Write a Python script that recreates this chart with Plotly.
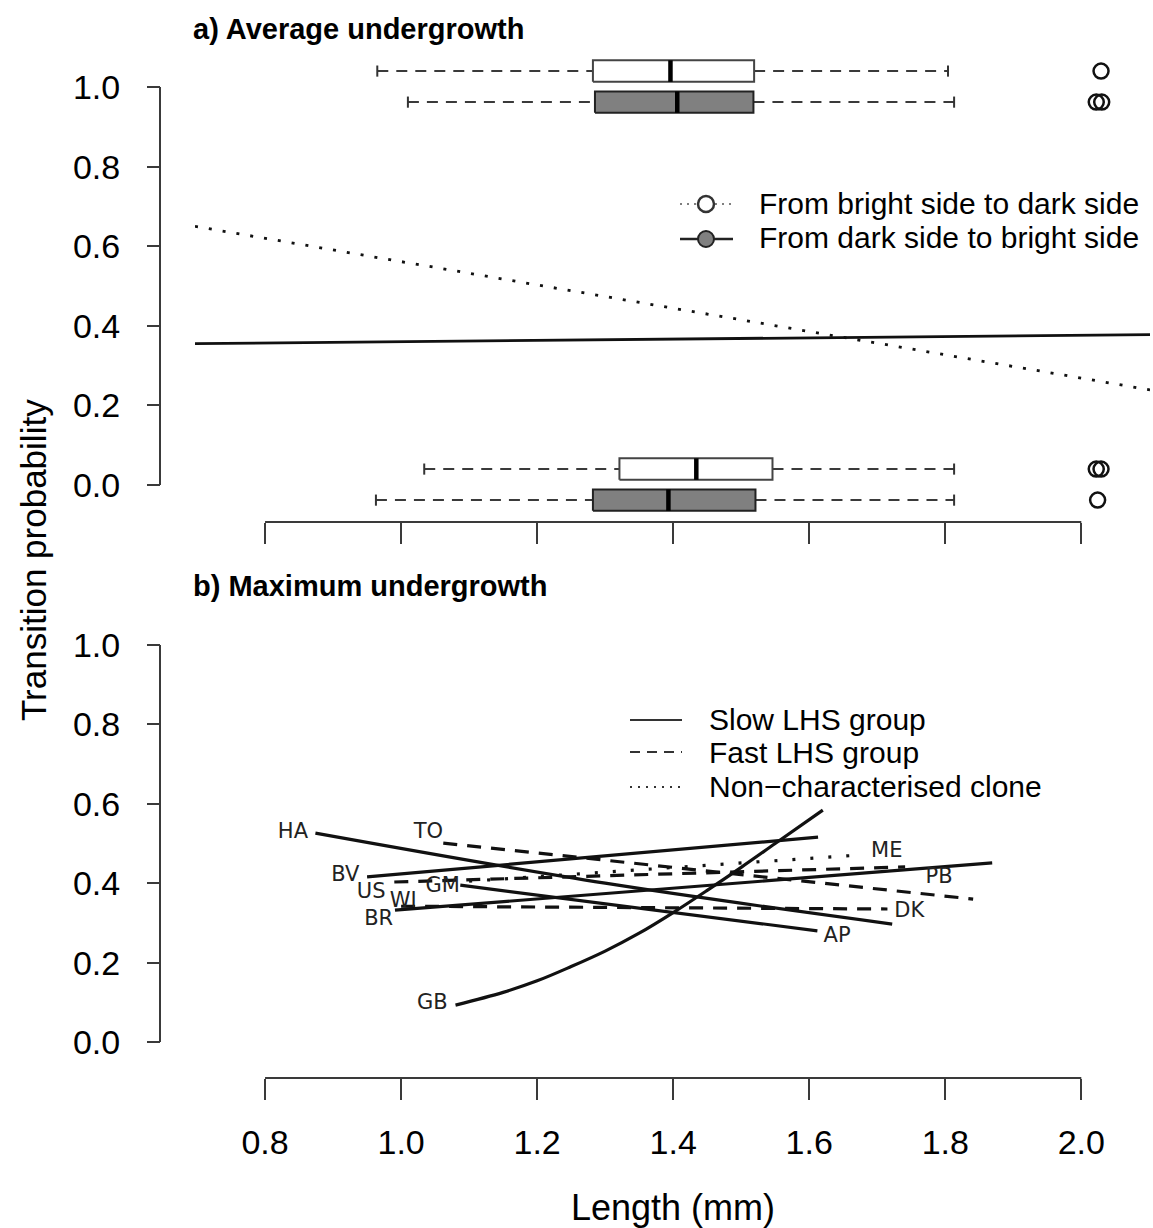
import plotly.graph_objects as go

W, H = 1153, 1228

# ---------------- data: panel a (average undergrowth) ----------------
# boxplots of length for transitions (rows: top pair = transition 1, bottom pair = 0)
box_pos = [1.04, 0.962, 0.04, -0.038]
box_kind = ["bright", "dark", "bright", "dark"]
box_wlo = [0.965, 1.010, 1.034, 0.963]
box_q1 = [1.282, 1.285, 1.321, 1.282]
box_med = [1.396, 1.406, 1.434, 1.393]
box_q3 = [1.519, 1.518, 1.546, 1.521]
box_whi = [1.804, 1.813, 1.813, 1.813]
box_out = [[2.029], [2.022, 2.030], [2.022, 2.029], [2.024]]

# fitted transition probability curves
avg_x = [0.697, 1.4, 2.101]
avg_bright_to_dark = [0.65, 0.445, 0.239]
avg_dark_to_bright = [0.355, 0.366, 0.378]

# ---------------- data: panel b (maximum undergrowth) ----------------
clone_names = ["HA", "BV", "BR", "AP", "TO", "US", "WI", "ME"]
clone_group = ["slow", "slow", "slow", "slow", "fast", "fast", "fast", "none"]
clone_x = [[0.874, 1.3, 1.722], [0.95, 1.613], [0.991, 1.869], [1.087, 1.612],
           [1.062, 1.841], [0.99, 1.741], [1.0, 1.715], [1.10, 1.675]]
clone_y = [[0.526, 0.40, 0.297], [0.416, 0.516], [0.332, 0.451], [0.395, 0.280],
           [0.501, 0.360], [0.403, 0.441], [0.342, 0.335], [0.405, 0.471]]
gb_x = [1.08, 1.15, 1.2, 1.25, 1.3, 1.35, 1.4, 1.45, 1.5, 1.55, 1.62]
gb_y = [0.093, 0.125, 0.154, 0.19, 0.229, 0.274, 0.326, 0.382, 0.44, 0.50, 0.584]

label_text = ["HA", "TO", "BV", "US", "WI", "GM", "BR", "GB", "ME", "PB", "DK", "AP"]
label_x = [0.841, 1.040, 0.918, 0.956, 1.003, 1.061, 0.967, 1.046, 1.714, 1.791, 1.747, 1.641]
label_y = [0.527, 0.527, 0.420, 0.375, 0.353, 0.390, 0.307, 0.096, 0.478, 0.413, 0.327, 0.265]

ticks_x = [0.8, 1.0, 1.2, 1.4, 1.6, 1.8, 2.0]
ticks_y = [0.0, 0.2, 0.4, 0.6, 0.8, 1.0]

# ---------------- styling helpers ----------------
FONT = "Liberation Sans"
AX = "#3a3a3a"
px = lambda v: v / W
py = lambda v: 1 - v / H
GROUP_DASH = {"slow": "solid", "fast": "14px,10px", "none": "3px,15px"}

fig = go.Figure()

# ---- panel a boxplots ----
bh, cap = 0.027, 0.014
for i in range(len(box_pos)):
    p = box_pos[i]
    fill = "white" if box_kind[i] == "bright" else "#808080"
    edge = "#444444" if box_kind[i] == "bright" else "#222222"
    for xa, xb in [(box_wlo[i], box_q1[i]), (box_q3[i], box_whi[i])]:
        fig.add_trace(go.Scatter(x=[xa, xb], y=[p, p], mode="lines", xaxis="x", yaxis="y",
                                 line=dict(color="#3a3a3a", width=2, dash="11px,8px"),
                                 showlegend=False, hoverinfo="skip"))
    for xc in [box_wlo[i], box_whi[i]]:
        fig.add_trace(go.Scatter(x=[xc, xc], y=[p - cap, p + cap], mode="lines", xaxis="x", yaxis="y",
                                 line=dict(color="#333", width=2), showlegend=False, hoverinfo="skip"))
    fig.add_trace(go.Scatter(x=[box_q1[i], box_q3[i], box_q3[i], box_q1[i], box_q1[i]],
                             y=[p - bh, p - bh, p + bh, p + bh, p - bh], mode="lines",
                             fill="toself", fillcolor=fill, xaxis="x", yaxis="y",
                             line=dict(color=edge, width=2), showlegend=False, hoverinfo="skip"))
    fig.add_trace(go.Scatter(x=[box_med[i], box_med[i]], y=[p - bh, p + bh], mode="lines",
                             xaxis="x", yaxis="y", line=dict(color="black", width=4.5),
                             showlegend=False, hoverinfo="skip"))
    fig.add_trace(go.Scatter(x=box_out[i], y=[p] * len(box_out[i]), mode="markers", xaxis="x", yaxis="y",
                             marker=dict(symbol="circle-open", size=15, color="#111", line=dict(width=2.5)),
                             showlegend=False, hoverinfo="skip"))

# ---- panel a curves ----
fig.add_trace(go.Scatter(x=avg_x, y=avg_bright_to_dark, mode="lines", xaxis="x", yaxis="y",
                         line=dict(color="#111", width=2.8, dash="3px,11px"), showlegend=False))
fig.add_trace(go.Scatter(x=avg_x, y=avg_dark_to_bright, mode="lines", xaxis="x", yaxis="y",
                         line=dict(color="#111", width=2.8), showlegend=False))

# ---- panel b curves ----
for i in range(len(clone_names)):
    fig.add_trace(go.Scatter(x=clone_x[i], y=clone_y[i], mode="lines", xaxis="x2", yaxis="y2",
                             line=dict(color="#111", width=3.2, dash=GROUP_DASH[clone_group[i]],
                                       shape="spline"),
                             name=clone_names[i], showlegend=False))
fig.add_trace(go.Scatter(x=gb_x, y=gb_y, mode="lines", xaxis="x2", yaxis="y2",
                         line=dict(color="#111", width=3.2, shape="spline"), name="GB", showlegend=False))
fig.add_trace(go.Scatter(x=label_x, y=label_y, mode="text", text=label_text, xaxis="x2", yaxis="y2",
                         textfont=dict(family="DejaVu Sans", size=21, color="#222"),
                         showlegend=False, hoverinfo="skip"))

# ---- axes ----
xa_common = dict(range=[0.697, 2.101], domain=[px(195), px(1150)], tickvals=ticks_x,
                 ticks="outside", ticklen=21, tickwidth=2, tickcolor=AX, showline=False,
                 showgrid=False, zeroline=False)
ya_common = dict(tickvals=ticks_y, tickformat=".1f", ticks="outside", ticklen=13, tickwidth=2,
                 tickcolor=AX, showline=False, showgrid=False, zeroline=False, anchor="free",
                 position=px(160), ticklabelstandoff=20,
                 tickfont=dict(family=FONT, size=34, color="black"))
fig.update_layout(
    xaxis=dict(**xa_common, anchor="y", showticklabels=False),
    yaxis=dict(**ya_common, domain=[py(522), py(45)], range=[(485 - 522) / 398, (485 - 45) / 398]),
    xaxis2=dict(**xa_common, anchor="y2", showticklabels=True, ticklabelstandoff=13,
                tickformat=".1f", tickfont=dict(family=FONT, size=34, color="black")),
    yaxis2=dict(**ya_common, domain=[py(1078), py(600)], range=[(1042 - 1078) / 397, (1042 - 600) / 397]),
)

shapes = []
# axis spines (R style, detached)
for yref, xref, ydom in [("y", "x", py(522)), ("y2", "x2", py(1078))]:
    shapes.append(dict(type="line", xref="paper", yref=yref, x0=px(160), x1=px(160), y0=0, y1=1,
                       line=dict(color=AX, width=2)))
    shapes.append(dict(type="line", xref=xref, yref="paper", x0=0.8, x1=2.0, y0=ydom, y1=ydom,
                       line=dict(color=AX, width=2)))

# legend a
shapes.append(dict(type="line", xref="paper", yref="paper", x0=px(680), x1=px(733), y0=py(204), y1=py(204),
                   line=dict(color="#555", width=1.5, dash="2px,5px")))
shapes.append(dict(type="circle", xref="paper", yref="paper", x0=px(698), x1=px(714), y0=py(212), y1=py(196),
                   fillcolor="white", line=dict(color="#333", width=2.5)))
shapes.append(dict(type="line", xref="paper", yref="paper", x0=px(680), x1=px(733), y0=py(239), y1=py(239),
                   line=dict(color="#222", width=2.5)))
shapes.append(dict(type="circle", xref="paper", yref="paper", x0=px(698), x1=px(714), y0=py(247), y1=py(231),
                   fillcolor="#808080", line=dict(color="#222", width=2)))
# legend b
for yy, dash in [(720, "solid"), (752, "10px,7px"), (787, "2px,6px")]:
    shapes.append(dict(type="line", xref="paper", yref="paper", x0=px(630), x1=px(682), y0=py(yy), y1=py(yy),
                       line=dict(color="#333", width=2, dash=dash)))

annotations = []
def txt(t, x, y, size, bold=False, xanchor="left", angle=0, family=FONT):
    annotations.append(dict(text=f"<b>{t}</b>" if bold else t, xref="paper", yref="paper",
                            x=px(x), y=py(y), xanchor=xanchor, yanchor="middle", showarrow=False,
                            textangle=angle, font=dict(family=family, size=size, color="black")))

txt("a) Average undergrowth", 191, 29, 29, bold=True)
txt("b) Maximum undergrowth", 191, 586, 29, bold=True)
txt("From bright side to dark side", 757, 204, 30)
txt("From dark side to bright side", 757, 238, 30)
txt("Slow LHS group", 707, 719, 30)
txt("Fast LHS group", 707, 752, 30)
txt("Non\u2212characterised clone", 707, 787, 30)
txt("Transition probability", 33, 560, 35, xanchor="center", angle=-90)
txt("Length (mm)", 673, 1207, 36, xanchor="center")

fig.update_layout(width=W, height=H, margin=dict(l=0, r=0, t=0, b=0),
                  paper_bgcolor="white", plot_bgcolor="white",
                  shapes=shapes, annotations=annotations, showlegend=False)

fig.write_html("out.html", config={"displayModeBar": False},
               post_script="document.body.style.margin='0px';")
